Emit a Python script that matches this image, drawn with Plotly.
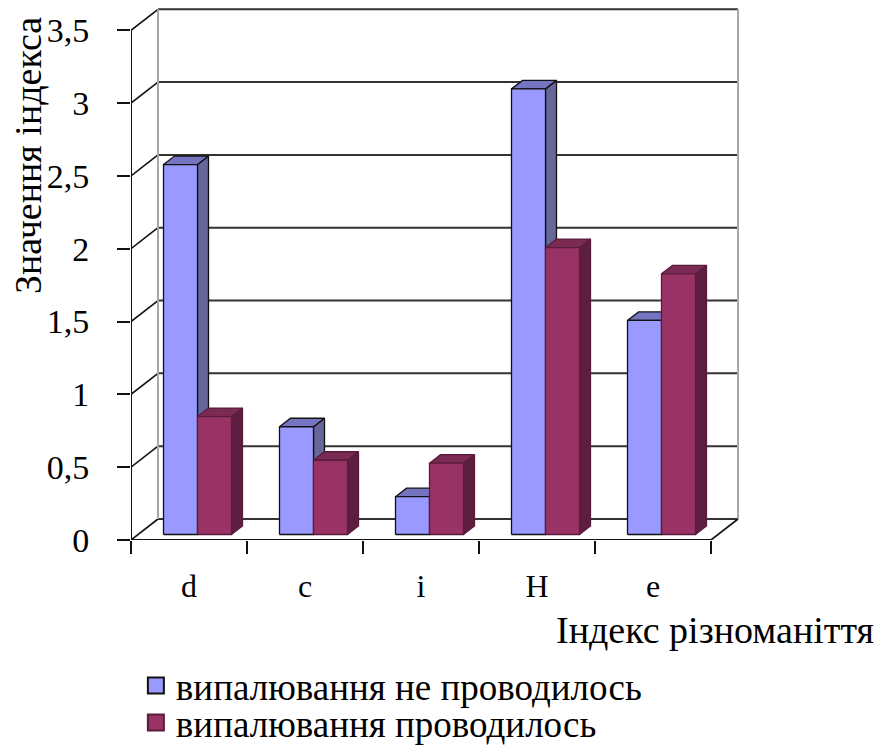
import plotly.graph_objects as go

# --- data -------------------------------------------------------------
categories = ["d", "c", "i", "H", "e"]
no_burning = [2.54, 0.74, 0.26, 3.06, 1.47]   # випалювання не проводилось
burning = [0.81, 0.51, 0.49, 1.97, 1.79]      # випалювання проводилось
y_ticks = [0, 0.5, 1, 1.5, 2, 2.5, 3, 3.5]
series_names = ["випалювання не проводилось", "випалювання проводилось"]

# --- pseudo-3D geometry (axis units) ----------------------------------
PX_X = 116.0      # pixels per category
PX_Y = 145.6      # pixels per unit of value
WALL_DX = 27 / PX_X
WALL_DY = 21 / PX_Y
BAR_SHIFT = 8.5 / PX_X
BAR_BASE = 5.5 / PX_Y
BAR_W = 34 / PX_X
BAR_DX = 11 / PX_X
BAR_DY = 8.5 / PX_Y

X_MIN, X_MAX = -0.5, 4.75
Y_MIN, Y_MAX = 0.0, 3.66
PLOT_H = 533.0    # plot-area height in pixels (bottom at 540 px)

FONT = "Liberation Serif"
YTICK_SIZE = 34
XTICK_SIZE = 32
TITLE_SIZE = 38
LEGEND_SIZE = 37

styles = [
    dict(front="#9999FF", side="#666699", top="#7474C0", line="#111111"),
    dict(front="#993366", side="#5E1E40", top="#7B2A54", line="#5A1C3C"),
]

fig = go.Figure()

# --- walls, floor and gridlines ---------------------------------------
shapes = []
dark = "#333333"
x_front_l, x_front_r = -0.5, 4.5
x_back_l, x_back_r = x_front_l + WALL_DX, x_front_r + WALL_DX
for v in y_ticks:
    yb = v + WALL_DY
    shapes.append(dict(type="line", xref="x", yref="y", x0=x_back_l, x1=x_back_r,
                       y0=yb, y1=yb, line=dict(color=dark, width=2), layer="below"))
    shapes.append(dict(type="line", xref="x", yref="y", x0=x_front_l, x1=x_back_l,
                       y0=v, y1=yb, line=dict(color="#111111", width=1.6), layer="below"))
for xb in (x_back_l, x_back_r):
    shapes.append(dict(type="line", xref="x", yref="y", x0=xb, x1=xb,
                       y0=WALL_DY, y1=3.5 + WALL_DY, line=dict(color="#A8A8A8", width=2),
                       layer="below"))
shapes.append(dict(type="line", xref="x", yref="y", x0=x_front_l, x1=x_front_r,
                   y0=0, y1=0, line=dict(color="#111111", width=2), layer="below"))
shapes.append(dict(type="line", xref="x", yref="y", x0=x_front_r, x1=x_back_r,
                   y0=0, y1=WALL_DY, line=dict(color="#111111", width=1.6), layer="below"))
shapes.append(dict(type="line", xref="x", yref="y", x0=x_front_l, x1=x_front_l,
                   y0=0, y1=3.5, line=dict(color="#111111", width=2), layer="below"))


def face_trace(px, py, fill, line):
    return go.Scatter(x=px, y=py, mode="lines", fill="toself", fillcolor=fill,
                      line=dict(color=line, width=1.3), showlegend=False,
                      hoverinfo="skip")


# --- bars: each face is a filled polygon, drawn back to front ---------
for s, (vals, name, st) in enumerate(zip([no_burning, burning], series_names, styles)):
    xs = [i + BAR_SHIFT + (s - 0.5) * BAR_W for i in range(len(categories))]
    side_x, side_y, top_x, top_y, fr_x, fr_y = [], [], [], [], [], []
    for xc, v in zip(xs, vals):
        xl, xr = xc - BAR_W / 2, xc + BAR_W / 2
        y0, y1 = BAR_BASE, BAR_BASE + v
        side_x += [xr, xr + BAR_DX, xr + BAR_DX, xr, xr, None]
        side_y += [y0, y0 + BAR_DY, y1 + BAR_DY, y1, y0, None]
        top_x += [xl, xl + BAR_DX, xr + BAR_DX, xr, xl, None]
        top_y += [y1, y1 + BAR_DY, y1 + BAR_DY, y1, y1, None]
        fr_x += [xl, xr, xr, xl, xl, None]
        fr_y += [y0, y0, y1, y1, y0, None]
    fig.add_trace(face_trace(side_x, side_y, st["side"], st["line"]))
    fig.add_trace(face_trace(top_x, top_y, st["top"], st["line"]))
    fig.add_trace(face_trace(fr_x, fr_y, st["front"], st["line"]))

# legend entries, one legend box per series
legend_ids = ["legend", "legend2"]
for name, st, lid in zip(series_names, styles, legend_ids):
    fig.add_trace(go.Scatter(x=[None], y=[None], mode="markers", name=name, legend=lid,
                             marker=dict(symbol="square", size=17, color=st["front"],
                                         line=dict(color=st["line"], width=2))))


def paper_y(py):
    return (540 - py) / PLOT_H


legend_common = dict(x=0.008, xanchor="left", yanchor="middle",
                     font=dict(family=FONT, size=LEGEND_SIZE),
                     bgcolor="rgba(0,0,0,0)", borderwidth=0)

fig.update_layout(
    width=882, height=748, autosize=False,
    margin=dict(l=131, r=142, t=7, b=208, autoexpand=False),
    plot_bgcolor="white", paper_bgcolor="white",
    separators=", ",
    font=dict(family=FONT, size=XTICK_SIZE, color="black"),
    shapes=shapes,
    showlegend=True,
    legend=dict(y=paper_y(686), **legend_common),
    legend2=dict(y=paper_y(723), **legend_common),
    annotations=[
        dict(text="Значення індекса", textangle=-90, xref="paper", yref="paper",
             x=(28 - 131) / 609, y=paper_y(156), xanchor="center", yanchor="middle",
             showarrow=False, font=dict(family=FONT, size=TITLE_SIZE)),
        dict(text="Індекс різноманіття", xref="paper", yref="paper",
             x=(876 - 131) / 609, y=paper_y(630), xanchor="right", yanchor="middle",
             showarrow=False, font=dict(family=FONT, size=TITLE_SIZE)),
    ],
)

fig.update_xaxes(range=[X_MIN, X_MAX], showgrid=False, zeroline=False, showline=False,
                 tickvals=list(range(len(categories))), ticktext=categories,
                 ticks="", ticklabelstandoff=24,
                 tickfont=dict(family=FONT, size=XTICK_SIZE),
                 minor=dict(tickvals=[i - 0.5 for i in range(len(categories) + 1)],
                            ticks="outside", ticklen=13, tickwidth=2, tickcolor="#111111"))
fig.update_yaxes(range=[Y_MIN, Y_MAX], showgrid=False, zeroline=False, showline=False,
                 tickvals=y_ticks, ticks="outside", ticklen=13, tickwidth=2,
                 tickcolor="#111111", ticklabelstandoff=21,
                 tickfont=dict(family=FONT, size=YTICK_SIZE))

fig.write_html("out.html")
